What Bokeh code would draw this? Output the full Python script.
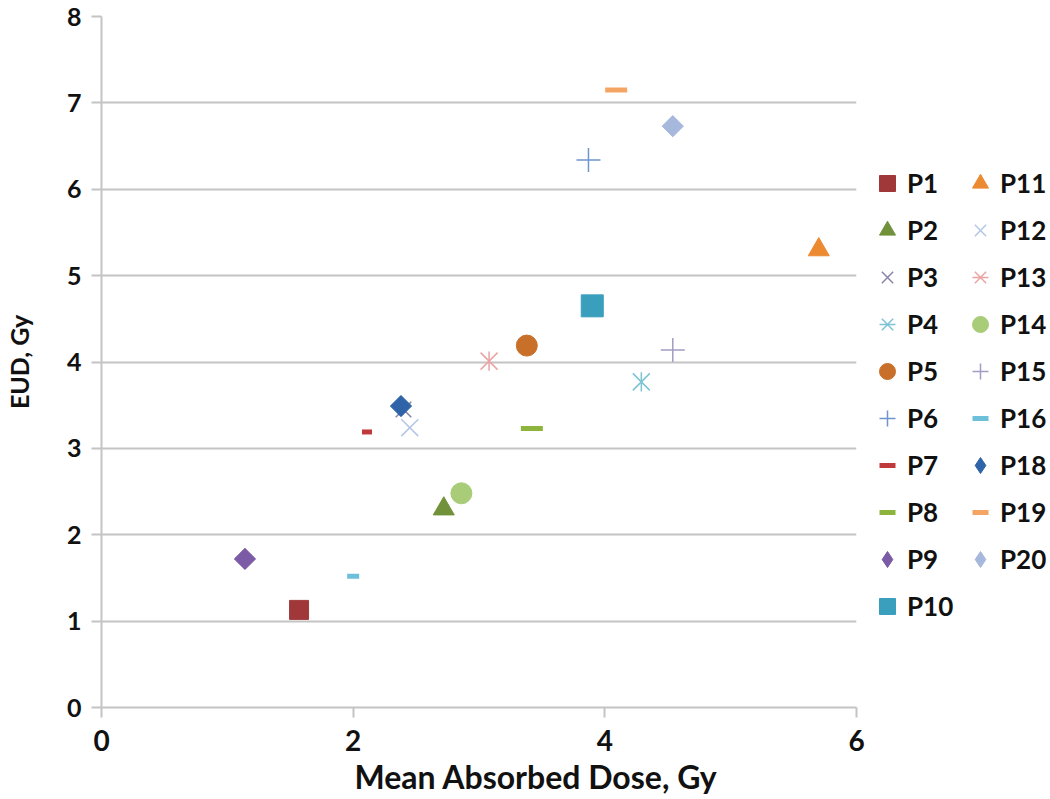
import math
from bokeh.plotting import figure
from bokeh.models import Range1d, Legend, LegendItem, FixedTicker, Title
from bokeh.embed import file_html
from bokeh.resources import INLINE

# ---- data ----
patients = ["P1", "P2", "P3", "P4", "P5", "P6", "P7", "P8", "P9", "P10",
            "P11", "P12", "P13", "P14", "P15", "P16", "P18", "P19", "P20"]
mean_dose = [1.57, 2.72, 2.40, 4.29, 3.38, 3.87, 2.11, 3.42, 1.14, 3.90,
             5.70, 2.45, 3.08, 2.86, 4.54, 2.00, 2.38, 4.09, 4.54]
eud = [1.13, 2.30, 3.45, 3.77, 4.19, 6.34, 3.19, 3.23, 1.72, 4.65,
       5.30, 3.24, 4.01, 2.48, 4.14, 1.52, 3.49, 7.15, 6.73]
x_ticks = [0, 2, 4, 6]
y_ticks = [0, 1, 2, 3, 4, 5, 6, 7, 8]

# ---- styles ----
markers = ["square", "triangle", "x", "asterisk", "circle", "cross", "dash", "dash", "diamond", "square",
           "triangle", "x", "asterisk", "circle", "cross", "dash", "diamond", "dash", "diamond"]
colors = ["#a0383a", "#71923b", "#8a82a8", "#7cc4d4", "#c8702a", "#6f95cc", "#c0393b", "#8db43c", "#7b5aa6", "#3a9fbd",
          "#ec8a32", "#b3c6e4", "#eba3a3", "#a9cc79", "#a49cc6", "#6cc0da", "#2f64a8", "#f5a563", "#a6b9dd"]
sizes = [19, 21, 22, 24, 21, 24, 10, 22, 15, 22,
         21, 24, 24, 21, 24, 12, 15, 22, 15]

FONT = "Lato"

p = figure(frame_width=755, frame_height=691,
           min_border_left=100, min_border_top=16, min_border_right=0, min_border_bottom=0,
           x_range=Range1d(0, 6), y_range=Range1d(0, 8),
           output_backend="svg", toolbar_location=None, tools="")
p.outline_line_color = None
p.background_fill_color = "white"
p.border_fill_color = "white"

p.xgrid.grid_line_color = None
p.ygrid.grid_line_color = "#c4c4c4"
p.ygrid.grid_line_width = 2
p.ygrid.ticker = FixedTicker(ticks=y_ticks)

for ax in (p.xaxis[0], p.yaxis[0]):
    ax.axis_line_color = "#c4c4c4"
    ax.axis_line_width = 2
    ax.major_tick_line_color = "#c4c4c4"
    ax.major_tick_line_width = 2
    ax.major_tick_in = 0
    ax.major_tick_out = 10
    ax.minor_tick_line_color = None
    ax.major_label_text_font = FONT
    ax.major_label_text_font_style = "bold"
    ax.major_label_text_color = "#111111"
    ax.axis_label_text_font = FONT
    ax.axis_label_text_font_style = "bold"
    ax.axis_label_text_color = "#111111"

p.xaxis.ticker = FixedTicker(ticks=x_ticks)
p.yaxis.ticker = FixedTicker(ticks=y_ticks)
p.xaxis.major_label_text_font_size = "28px"
p.yaxis.major_label_text_font_size = "25px"
p.xaxis.major_label_standoff = 12
p.yaxis.axis_label = "EUD, Gy"
p.yaxis.axis_label_text_font_size = "25px"
p.yaxis.major_label_standoff = 10
p.yaxis.axis_label_standoff = 30

# x-axis title, placed right of centre as in the reference
p.add_layout(Title(text="Mean Absorbed Dose, Gy", align="left", offset=253, standoff=2,
                   text_font=FONT, text_font_style="bold", text_font_size="32px",
                   text_color="#111111"), "below")

renderers = {}
for name, xv, yv, m, c, s in zip(patients, mean_dose, eud, markers, colors, sizes):
    if m == "dash":
        rs = [p.scatter(x=[xv], y=[yv], marker="dash", size=s, line_color=c, line_width=5)]
    elif m == "diamond":
        # diamond shape for the legend key (hidden under the rotated square in the plot)
        key = p.scatter(x=[xv], y=[yv], marker="diamond", size=s * 1.3,
                        fill_color=c, line_color=c, line_width=1)
        p.scatter(x=[xv], y=[yv], marker="square", angle=math.pi / 4, size=s,
                  fill_color=c, line_color=c, line_width=1)
        rs = [key]
    elif m == "asterisk":
        rs = [p.scatter(x=[xv], y=[yv], marker="x", size=s, line_color=c, line_width=1.5),
              p.scatter(x=[xv], y=[yv], marker="dash", angle=math.pi / 2, size=s * 0.8,
                        line_color=c, line_width=1.5)]
    elif m in ("x", "cross"):
        rs = [p.scatter(x=[xv], y=[yv], marker=m, size=s, line_color=c, line_width=1.5)]
    else:
        rs = [p.scatter(x=[xv], y=[yv], marker=m, size=s, fill_color=c, line_color=c, line_width=1)]
    renderers[name] = rs

legend = Legend(items=[LegendItem(label=n, renderers=renderers[n]) for n in patients],
                location=(11, 79), orientation="vertical", ncols=2,
                glyph_width=40, glyph_height=44, spacing=3, padding=0, margin=6,
                label_standoff=0, label_width=50, label_text_font=FONT, label_text_font_style="bold",
                label_text_font_size="26px", label_text_color="#111111",
                border_line_color=None, background_fill_alpha=0)
p.add_layout(legend, "right")

open("out.html", "w").write(file_html(p, INLINE))
